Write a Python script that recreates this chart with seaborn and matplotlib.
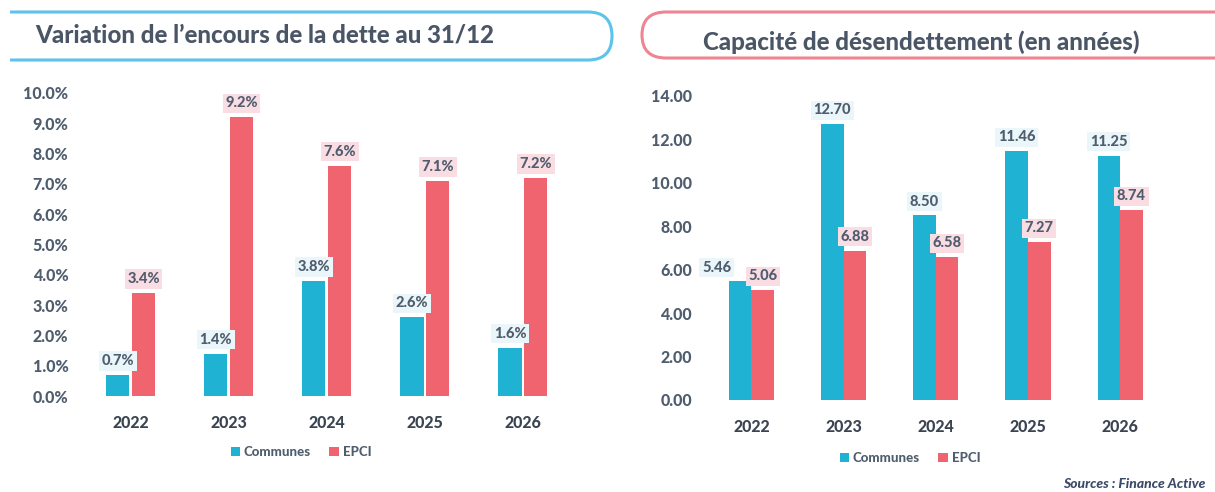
import numpy as np
import pandas as pd
import matplotlib
matplotlib.use("Agg")
import matplotlib.pyplot as plt
from matplotlib.path import Path
from matplotlib.patches import PathPatch, Patch
import seaborn as sns

# ── Data ──────────────────────────────────────────────────────────────────
YEARS = ["2022", "2023", "2024", "2025", "2026"]
SERIES = ["Communes", "EPCI"]

VARIATION_COMMUNES = [0.7, 1.4, 3.8, 2.6, 1.6]
VARIATION_EPCI = [3.4, 9.2, 7.6, 7.1, 7.2]

CAPACITE_COMMUNES = [5.46, 12.70, 8.50, 11.46, 11.25]
CAPACITE_EPCI = [5.06, 6.88, 6.58, 7.27, 8.74]

TITLE_LEFT = "Variation de l\u2019encours de la dette au 31/12"
TITLE_RIGHT = "Capacité de désendettement (en années)"
SOURCE = "Sources : Finance Active"

# ── Style ─────────────────────────────────────────────────────────────────
COLOURS = {"Communes": "#1fb2d2", "EPCI": "#f0646f"}
LABEL_BG = {"Communes": "#eaf6fa", "EPCI": "#f9dde3"}
TEXT = "#4f5d6e"
DARK = "#3b4552"
FONT = ["Lato", "DejaVu Sans"]
HEAVY = 900

sns.set_theme(style="white")
plt.rcParams["font.family"] = FONT


def long_frame(communes, epci):
    rows = []
    for s, vals in zip(SERIES, [communes, epci]):
        for y, v in zip(YEARS, vals):
            rows.append({"year": y, "type": s, "value": v})
    return pd.DataFrame(rows)


def draw_panel(ax, df, width, gap, ymax, step, fmt, nudge=None):
    sns.barplot(data=df, x="year", y="value", hue="type", order=YEARS,
                hue_order=SERIES, palette=COLOURS, width=width, gap=gap,
                saturation=1, linewidth=0, legend=False, ax=ax)
    ax.set_xlim(-0.5, len(YEARS) - 0.5)
    ax.set_ylim(0, ymax)
    ax.set_yticks(np.arange(0, ymax + step / 2, step))
    ax.set_yticklabels([fmt.format(t) for t in ax.get_yticks()])
    ax.set_xlabel("")
    ax.set_ylabel("")
    ax.tick_params(axis="y", length=0, pad=9.5, labelsize=11.5, labelcolor=TEXT)
    ax.tick_params(axis="x", length=0, pad=13.5, labelsize=11.5, labelcolor=DARK)
    for lab in ax.get_yticklabels() + ax.get_xticklabels():
        lab.set_fontweight(HEAVY)
    sns.despine(ax=ax, left=True, bottom=True)

    nudge = nudge or {}
    for s, cont in zip(SERIES, ax.containers):
        for y, bar in zip(YEARS, cont):
            h = bar.get_height()
            dx = nudge.get((y, s), 0)
            ax.annotate(fmt.format(h),
                        (bar.get_x() + bar.get_width() / 2, h),
                        xytext=(dx, 10), textcoords="offset points",
                        ha="center", va="center", fontsize=10.5,
                        fontweight=HEAVY, color=TEXT,
                        bbox=dict(boxstyle="square,pad=0.18", fc=LABEL_BG[s],
                                  ec="none"))


fig = plt.figure(figsize=(12.15, 4.92), dpi=100)

# decoration layer in pixel coordinates
deco = fig.add_axes([0, 0, 1, 1], zorder=-1)
deco.set_xlim(0, 1215)
deco.set_ylim(492, 0)
deco.axis("off")

left_box = Path(
    [(10, 12), (588, 12), (612, 12), (612, 36), (612, 60), (588, 60), (10, 60)],
    [Path.MOVETO, Path.LINETO, Path.CURVE3, Path.CURVE3, Path.CURVE3,
     Path.CURVE3, Path.LINETO])
deco.add_patch(PathPatch(left_box, fill=False, ec="#5cc3ea", lw=2.2))
right_box = Path(
    [(1215, 12), (666, 12), (642, 12), (642, 35), (642, 58), (666, 58), (1215, 58)],
    [Path.MOVETO, Path.LINETO, Path.CURVE3, Path.CURVE3, Path.CURVE3,
     Path.CURVE3, Path.LINETO])
deco.add_patch(PathPatch(right_box, fill=False, ec="#ef8492", lw=2.2))

fig.text(35 / 1215, 1 - 35 / 492, TITLE_LEFT, fontsize=17.3, fontweight=HEAVY,
         color="#4a5566", va="center", ha="left")
fig.text(703 / 1215, 1 - 42 / 492, TITLE_RIGHT, fontsize=17.3, fontweight=HEAVY,
         color="#4a5566", va="center", ha="left")

ax1 = fig.add_axes([0.0672, 0.1951, 0.4035, 0.6159])
draw_panel(ax1, long_frame(VARIATION_COMMUNES, VARIATION_EPCI),
           width=0.525, gap=0.1, ymax=10, step=1, fmt="{:.1f}%")

ax2 = fig.add_axes([0.5805, 0.187, 0.3794, 0.6179])
draw_panel(ax2, long_frame(CAPACITE_COMMUNES, CAPACITE_EPCI),
           width=0.49, gap=0, ymax=14, step=2, fmt="{:.2f}",
           nudge={("2022", "Communes"): -17})

handles = [Patch(fc=COLOURS[s], ec="none", label=s) for s in SERIES]
for cx, cy in [(301, 452), (910, 458)]:
    leg = fig.legend(handles=handles, loc="center",
                     bbox_to_anchor=(cx / 1215, 1 - cy / 492), ncol=2,
                     frameon=False, fontsize=9.5, handlelength=0.7,
                     handleheight=0.7, handletextpad=0.3, columnspacing=1.4)
    for t in leg.get_texts():
        t.set_color(TEXT)
        t.set_fontweight(HEAVY)

fig.text(1205 / 1215, 1 - 484 / 492, SOURCE, fontsize=10, fontweight=HEAVY,
         fontstyle="italic", color="#3c4b6b", ha="right", va="center")

fig.savefig("out.png", dpi=100, facecolor="white")
